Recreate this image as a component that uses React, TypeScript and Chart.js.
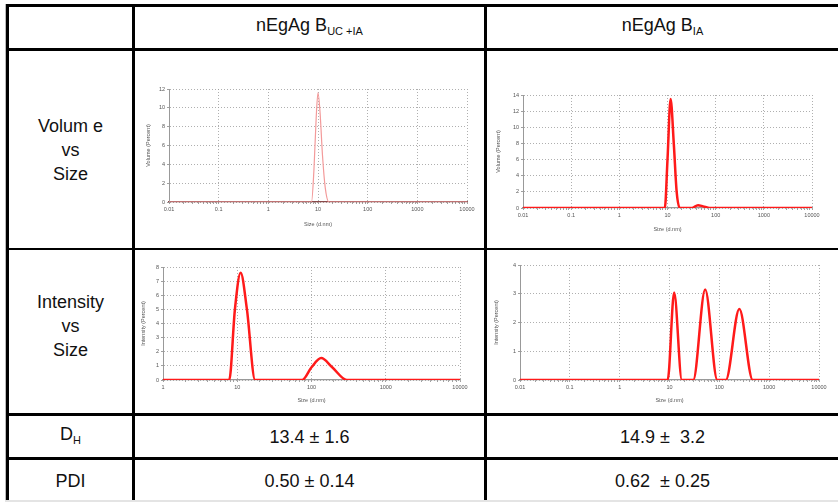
import React, { useEffect, useRef } from "react";
import { Chart, registerables } from "chart.js";
Chart.register(...registerables);

// ---- data ----
const decadesWide = [0.01, 0.1, 1, 10, 100, 1000, 10000];
const decadesNarrow = [1, 10, 100, 1000, 10000];
const minorSteps = [2, 3, 4, 5, 6, 7, 8, 9];

// Volume vs Size, nEgAgB UC+IA
const volSizeA = [0.01, 7.4, 8.3, 9.2, 10, 11, 12.3, 14, 16.6, 10000];
const volValA = [0, 0, 3.5, 9, 11.6, 9.5, 5, 1.5, 0, 0];

// Volume vs Size, nEgAgB IA
const volSizeB = [0.01, 8.8, 10, 11.6, 13.5, 15.5, 18, 32, 43, 55, 76, 10000];
const volValB = [0, 0, 6, 13.5, 8, 2, 0, 0, 0.35, 0.2, 0, 0];

// Intensity vs Size, nEgAgB UC+IA
const intSizeA = [1, 7.8, 9.3, 11.1, 13.5, 17.4, 75, 100, 135, 190, 299, 10000];
const intValA = [0, 0, 5, 7.6, 5, 0, 0, 0.9, 1.55, 0.9, 0, 0];

// Intensity vs Size, nEgAgB IA
const intSizeB = [0.01, 9.2, 12.4, 17.7, 30, 52, 91, 135, 252, 468, 10000];
const intValB = [0, 0, 3.04, 0, 0, 3.15, 0, 0, 2.47, 0, 0];

const dhValues = ["13.4 ± 1.6", "14.9 ±  3.2"];
const pdiValues = ["0.50 ± 0.14", "0.62  ± 0.25"];

const FONT = "'Liberation Sans', Arial, sans-serif";

type ChartSpec = {
  left: number;
  top: number;
  width: number;
  height: number;
  yAxisW: number;
  xAxisH: number;
  padTop: number;
  padRight: number;
  sizes: number[];
  values: number[];
  xMin: number;
  xMax: number;
  xTicks: number[];
  yMax: number;
  yStep: number;
  yTitle: string;
  color: string;
  lineWidth: number;
  baseColor: string;
};

const isDecade = (v: number) => Math.abs(Math.log10(v) - Math.round(Math.log10(v))) < 1e-9;

function MiniChart({ spec }: { spec: ChartSpec }) {
  const ref = useRef<HTMLCanvasElement | null>(null);
  useEffect(() => {
    if (!ref.current) return;
    const pts = spec.sizes.map((s, i) => ({ x: s, y: spec.values[i] }));
    const tickFont = { family: FONT, size: 5.5 };
    const allX: number[] = [];
    spec.xTicks.forEach((d, i) => {
      allX.push(d);
      if (i < spec.xTicks.length - 1) minorSteps.forEach((m) => allX.push(d * m));
    });
    const chart = new Chart(ref.current, {
      type: "line",
      data: {
        datasets: [
          {
            data: pts,
            borderColor: spec.color,
            borderWidth: spec.lineWidth,
            pointRadius: 0,
            cubicInterpolationMode: "monotone",
            fill: false,
          },
        ],
      },
      options: {
        responsive: false,
        maintainAspectRatio: false,
        animation: false,
        layout: { padding: { top: spec.padTop, right: spec.padRight, left: 0, bottom: 0 } },
        plugins: { legend: { display: false }, tooltip: { enabled: false } },
        scales: {
          x: {
            type: "logarithmic",
            min: spec.xMin,
            max: spec.xMax,
            afterBuildTicks: (scale: any) => {
              scale.ticks = allX.map((v) => ({ value: v }));
            },
            afterFit: (scale: any) => {
              scale.height = spec.xAxisH;
            },
            ticks: {
              font: tickFont,
              color: "#555",
              padding: 2,
              maxRotation: 0,
              autoSkip: false,
              callback: (v: any) => (isDecade(Number(v)) ? String(v) : ""),
            },
            grid: {
              color: (ctx: any) => (ctx.tick && isDecade(ctx.tick.value) ? "#9a9a9a" : "rgba(0,0,0,0)"),
              lineWidth: 0.8,
              tickLength: 2,
              tickColor: "#888",
            },
            border: { color: spec.baseColor, width: 1.2, dash: [1, 2] },
            title: { display: true, text: "Size (d.nm)", font: tickFont, color: "#555", padding: 2 },
          },
          y: {
            min: 0,
            max: spec.yMax,
            afterFit: (scale: any) => {
              scale.width = spec.yAxisW;
            },
            ticks: { stepSize: spec.yStep, font: tickFont, color: "#555", padding: 2 },
            grid: { color: "#9a9a9a", lineWidth: 0.8, tickLength: 2, tickColor: "#888" },
            border: { color: "#999", width: 1, dash: [1, 2] },
            title: { display: true, text: spec.yTitle, font: tickFont, color: "#555", padding: 5 },
          },
        },
      },
    } as any);
    return () => chart.destroy();
  }, [spec]);
  return (
    <canvas
      ref={ref}
      width={spec.width}
      height={spec.height}
      style={{ position: "absolute", left: spec.left, top: spec.top, width: spec.width, height: spec.height }}
    />
  );
}

const charts: ChartSpec[] = [
  {
    left: 140, top: 80, width: 340, height: 150, yAxisW: 29, xAxisH: 28, padTop: 9, padRight: 13,
    sizes: volSizeA, values: volValA, xMin: 0.01, xMax: 10000, xTicks: decadesWide,
    yMax: 12, yStep: 2, yTitle: "Volume (Percent)", color: "#f39a9a", lineWidth: 1.2, baseColor: "#8a4a4a",
  },
  {
    left: 490, top: 85, width: 340, height: 150, yAxisW: 33, xAxisH: 27, padTop: 10, padRight: 18,
    sizes: volSizeB, values: volValB, xMin: 0.01, xMax: 10000, xTicks: decadesWide,
    yMax: 14, yStep: 2, yTitle: "Volume (Percent)", color: "#ff1a1a", lineWidth: 2.5, baseColor: "#999",
  },
  {
    left: 135, top: 258, width: 340, height: 148, yAxisW: 28, xAxisH: 26, padTop: 9, padRight: 15,
    sizes: intSizeA, values: intValA, xMin: 1, xMax: 10000, xTicks: decadesNarrow,
    yMax: 8, yStep: 1, yTitle: "Intensity (Percent)", color: "#ff1a1a", lineWidth: 2.5, baseColor: "#999",
  },
  {
    left: 488, top: 256, width: 345, height: 150, yAxisW: 32, xAxisH: 26, padTop: 9, padRight: 14,
    sizes: intSizeB, values: intValB, xMin: 0.01, xMax: 10000, xTicks: decadesWide,
    yMax: 4, yStep: 1, yTitle: "Intensity (Percent)", color: "#ff1a1a", lineWidth: 2.5, baseColor: "#999",
  },
];

const line = (l: number, t: number, w: number, h: number, c = "#000") => (
  <div style={{ position: "absolute", left: l, top: t, width: w, height: h, background: c }} />
);

const textStyle: React.CSSProperties = {
  position: "absolute",
  fontFamily: FONT,
  fontSize: 18,
  color: "#111",
  textAlign: "center",
  lineHeight: "24px",
  whiteSpace: "pre",
};

function Cell({ l, t, w, h, children }: { l: number; t: number; w: number; h: number; children: React.ReactNode }) {
  return (
    <div
      style={{
        ...textStyle,
        left: l,
        top: t,
        width: w,
        height: h,
        display: "flex",
        alignItems: "center",
        justifyContent: "center",
        flexDirection: "column",
      }}
    >
      {children}
    </div>
  );
}

const subStyle: React.CSSProperties = { fontSize: 11, verticalAlign: "-4px" };

export default function App() {
  return (
    <div style={{ position: "absolute", left: 0, top: 0, width: 838, height: 502, background: "#fff", overflow: "hidden" }}>
      {/* table lines */}
      {line(5, 4, 833, 3)}
      {line(5, 4, 1, 498, "#bbb")}
      {line(6, 4, 3, 498)}
      {line(132, 4, 3, 498)}
      {line(484, 4, 3, 498)}
      {line(6, 48, 832, 3)}
      {line(6, 248, 832, 2)}
      {line(6, 413, 832, 3)}
      {line(6, 457, 832, 3)}
      {line(5, 500, 833, 2, "#e4e4e4")}

      {/* header */}
      <Cell l={135} t={7} w={349} h={41}>
        <div>
          nEgAg B<span style={subStyle}>UC +IA</span>
        </div>
      </Cell>
      <Cell l={487} t={7} w={351} h={41}>
        <div>
          nEgAg B<span style={subStyle}>IA</span>
        </div>
      </Cell>

      {/* row labels */}
      <Cell l={9} t={51} w={123} h={197}>
        <div>Volum e</div>
        <div>vs</div>
        <div>Size</div>
      </Cell>
      <Cell l={9} t={250} w={123} h={152}>
        <div>Intensity</div>
        <div>vs</div>
        <div>Size</div>
      </Cell>
      <Cell l={9} t={416} w={123} h={41}>
        <div>
          D<span style={subStyle}>H</span>
        </div>
      </Cell>
      <Cell l={9} t={460} w={123} h={41}>
        <div>PDI</div>
      </Cell>

      {/* values */}
      <Cell l={135} t={416} w={349} h={41}>
        <div>{dhValues[0]}</div>
      </Cell>
      <Cell l={487} t={416} w={351} h={41}>
        <div>{dhValues[1]}</div>
      </Cell>
      <Cell l={135} t={460} w={349} h={41}>
        <div>{pdiValues[0]}</div>
      </Cell>
      <Cell l={487} t={460} w={351} h={41}>
        <div>{pdiValues[1]}</div>
      </Cell>

      {charts.map((c, i) => (
        <MiniChart key={i} spec={c} />
      ))}
    </div>
  );
}
